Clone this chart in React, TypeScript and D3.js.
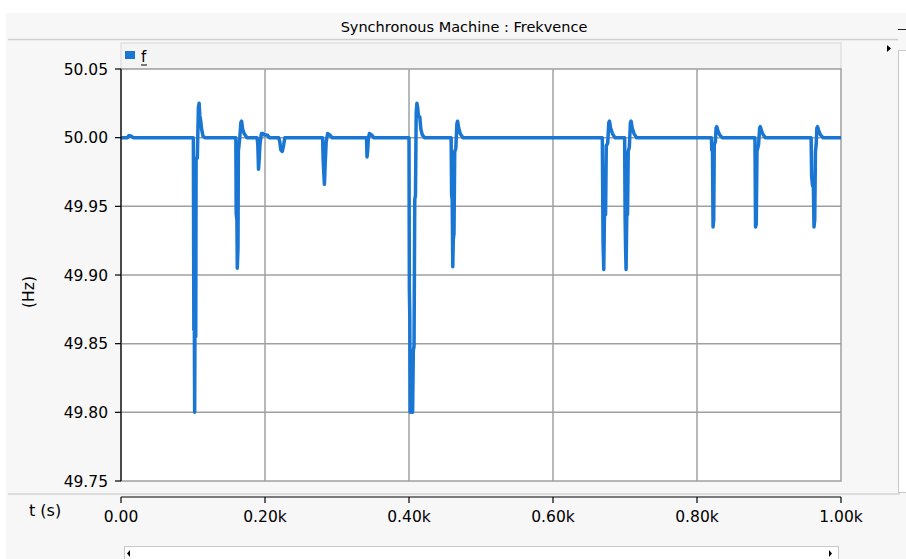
import React from "react";
import * as d3 from "d3";

const titleText = "Synchronous Machine : Frekvence";
const seriesName = "f";
const xTickValues = [0, 200, 400, 600, 800, 1000];
const xTickLabels = ["0.00", "0.20k", "0.40k", "0.60k", "0.80k", "1.00k"];
const yTickValues = [49.75, 49.8, 49.85, 49.9, 49.95, 50.0, 50.05];
const yTickLabels = ["49.75", "49.80", "49.85", "49.90", "49.95", "50.00", "50.05"];
const xAxisTitle = "t (s)";
const yAxisTitle = "(Hz)";

// time (s)
const timeS = [
  0, 9, 11, 14, 17,
  100.5, 101.2, 101.8, 102.3, 102.8, 103.8, 104.3, 106, 107.5, 108.5, 109.5, 110.5, 112, 114, 117,
  159.5, 160, 161, 161.5, 162.5, 163, 165, 166.5, 167.5, 169, 171, 175,
  189, 190, 191, 192, 193, 195, 197, 199, 203, 206,
  219, 220.5, 222, 224, 226, 227.5,
  280, 280.7, 281.5, 282.5, 283.5, 285, 287, 290, 293,
  341, 341.7, 342.5, 343.5, 345, 348, 351,
  400, 400.5, 401.1, 401.6, 403.5, 405, 406, 407, 408, 409, 410, 411, 412, 413, 415, 416.5, 418.5, 421.5,
  458.5, 459.2, 460, 460.8, 461.5, 462.5, 463.5, 465, 466.5, 467.5, 469, 471, 475,
  668.5, 669.5, 670.5, 671.5, 673, 674, 676, 677.5, 678.5, 680, 682.5, 686,
  699.5, 700.2, 700.8, 701.5, 702.5, 703.5, 704.5, 706, 707.5, 708.5, 710, 712.5, 716,
  820, 820.5, 821.5, 822.3, 823.2, 824, 825.5, 826.5, 827.5, 829, 831.5, 835,
  880.5, 881.3, 882.3, 883.3, 885.5, 887, 888, 889.5, 892, 895,
  958.5, 959.2, 960.5, 961.5, 962.5, 963.5, 964.5, 965.5, 966.5, 967.5, 969, 971.5, 975, 1000,
];
// frequency (Hz)
const freqHz = [
  50.0, 50.0, 50.0015, 50.0012, 50.0,
  50.0, 49.86, 49.87, 49.8, 49.87, 49.855, 49.985, 49.985, 50.022, 50.025, 50.016, 50.013, 50.006, 50.001, 50.0,
  50.0, 49.945, 49.94, 49.905, 49.92, 49.99, 50.0, 50.011, 50.012, 50.006, 50.003, 50.0,
  50.0, 49.995, 49.977, 49.985, 49.995, 50.003, 50.003, 50.002, 50.002, 50.0,
  50.0, 49.997, 49.991, 49.99, 49.995, 50.0,
  50.0, 49.985, 49.976, 49.966, 49.98, 49.997, 50.003, 50.002, 50.0,
  50.0, 49.986, 49.99, 49.999, 50.003, 50.002, 50.0,
  50.0, 49.89, 49.87, 49.8, 49.803, 49.8, 49.845, 49.848, 49.955, 49.958, 50.018, 50.025, 50.022, 50.016, 50.015, 50.006, 50.002, 50.0,
  50.0, 49.958, 49.955, 49.906, 49.926, 49.93, 49.99, 49.992, 50.01, 50.012, 50.007, 50.003, 50.0,
  50.0, 49.925, 49.904, 49.945, 49.944, 49.994, 49.996, 50.011, 50.012, 50.007, 50.003, 50.0,
  50.0, 49.94, 49.92, 49.904, 49.945, 49.944, 49.99, 49.993, 50.011, 50.012, 50.007, 50.003, 50.0,
  50.0, 49.991, 49.99, 49.935, 49.94, 49.995, 49.997, 50.007, 50.008, 50.005, 50.002, 50.0,
  50.0, 49.935, 49.937, 49.99, 49.995, 50.007, 50.008, 50.005, 50.002, 50.0,
  50.0, 49.972, 49.965, 49.97, 49.935, 49.94, 49.99, 49.995, 50.007, 50.008, 50.005, 50.002, 50.0, 50.0,
];

const W = 906;
const H = 559;
const plot = { left: 121, right: 841, top: 69, bottom: 481 };
const font = "'DejaVu Sans', Verdana, sans-serif";
const lineColor = "#1976D2";
const gridColor = "#a0a0a0";

export default function App() {
  const x = d3.scaleLinear().domain([0, 1000]).range([plot.left, plot.right]);
  const y = d3.scaleLinear().domain([49.75, 50.05]).range([plot.bottom, plot.top]);
  const pts: [number, number][] = timeS.map((t, i) => [t, freqHz[i]]);
  const line = d3
    .line<[number, number]>()
    .x((d) => x(d[0]))
    .y((d) => y(d[1]));
  const path = line(pts) || "";

  return (
    <div style={{ position: "absolute", left: 0, top: 0 }}>
      <svg width={W} height={H} style={{ display: "block" }}>
        <defs>
          <clipPath id="plotClip">
            <rect x={plot.left} y={plot.top} width={plot.right - plot.left} height={plot.bottom - plot.top} />
          </clipPath>
        </defs>
        <rect x={0} y={0} width={W} height={H} fill="#ffffff" />
        <rect x={6} y={13} width={W - 6} height={H - 13} fill="#f7f7f7" />
        {/* title */}
        <text x={464} y={32} textAnchor="middle" fontFamily={font} fontSize={14.5} fill="#000">
          {titleText}
        </text>
        <line x1={8} x2={898} y1={39.5} y2={39.5} stroke="#cfcfcf" strokeWidth={1.5} />
        <line x1={898} x2={906} y1={29.5} y2={29.5} stroke="#222" strokeWidth={1} />
        {/* legend bar */}
        <rect x={plot.left} y={43} width={plot.right - plot.left} height={plot.top - 43} fill="#f4f4f4" stroke="#d8d8d8" />
        <rect x={125} y={51} width={10} height={8} fill={lineColor} />
        <text x={141} y={62} fontFamily={font} fontSize={15} fill="#000">
          {seriesName}
        </text>
        <line x1={141} x2={147} y1={65} y2={65} stroke="#000" strokeWidth={1} />
        {/* right-side controls */}
        <path d="M887,45 L891,48.5 L887,52 Z" fill="#000" />
        <rect x={898.5} y={50.5} width={8} height={442} fill="#ffffff" stroke="#c8c8c8" />
        {/* plot area */}
        <rect x={plot.left} y={plot.top} width={plot.right - plot.left} height={plot.bottom - plot.top} fill="#ffffff" />
        {xTickValues.slice(1, -1).map((v) => (
          <line key={"gx" + v} x1={x(v)} x2={x(v)} y1={plot.top} y2={plot.bottom} stroke={gridColor} strokeWidth={1.5} />
        ))}
        {yTickValues.slice(1, -1).map((v) => (
          <line key={"gy" + v} x1={plot.left} x2={plot.right} y1={y(v)} y2={y(v)} stroke={gridColor} strokeWidth={1.5} />
        ))}
        <rect x={plot.left} y={plot.top} width={plot.right - plot.left} height={plot.bottom - plot.top} fill="none" stroke={gridColor} strokeWidth={1.5} />
        <path d={path} fill="none" stroke={lineColor} strokeWidth={3.5} strokeLinejoin="round" strokeLinecap="round" clipPath="url(#plotClip)" />
        {/* y axis */}
        <line x1={plot.left} x2={plot.left} y1={plot.top} y2={plot.bottom} stroke="#000" strokeWidth={1.2} />
        {yTickValues.map((v, i) => (
          <g key={"yt" + v}>
            <line x1={plot.left - 6} x2={plot.left} y1={y(v)} y2={y(v)} stroke="#000" strokeWidth={1.2} />
            <text x={108} y={y(v) + 5.5} textAnchor="end" fontFamily={font} fontSize={15.5} fill="#000">
              {yTickLabels[i]}
            </text>
          </g>
        ))}
        <text transform="translate(34,292) rotate(-90)" textAnchor="middle" fontFamily={font} fontSize={15.5} fill="#000">
          {yAxisTitle}
        </text>
        {/* bottom separator and x axis */}
        <line x1={8} x2={900} y1={494} y2={494} stroke="#d4d4d4" strokeWidth={1.5} />
        <line x1={plot.left} x2={plot.right} y1={497} y2={497} stroke="#000" strokeWidth={1.2} />
        {xTickValues.map((v, i) => (
          <g key={"xt" + v}>
            <line x1={x(v)} x2={x(v)} y1={497} y2={503} stroke="#000" strokeWidth={1.2} />
            <text x={x(v)} y={522} textAnchor="middle" fontFamily={font} fontSize={15.5} fill="#000">
              {xTickLabels[i]}
            </text>
          </g>
        ))}
        <text x={29} y={516} fontFamily={font} fontSize={16} fill="#000">
          {xAxisTitle}
        </text>
        {/* bottom scrollbar */}
        <rect x={124.5} y={546.5} width={714} height={14} fill="#ffffff" stroke="#c8c8c8" />
        <path d="M130,550 L127,553.5 L130,557 Z" fill="#000" />
        <path d="M829,550 L832,553.5 L829,557 Z" fill="#000" />
      </svg>
    </div>
  );
}
